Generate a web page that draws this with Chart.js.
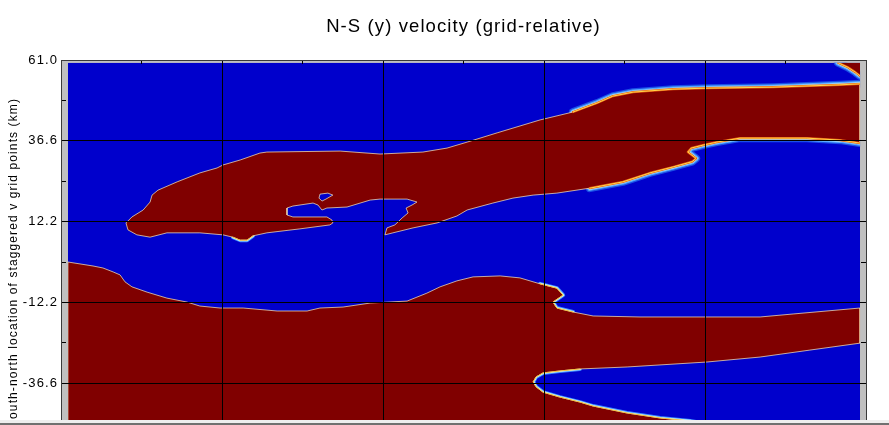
<!DOCTYPE html>
<html>
<head>
<meta charset="utf-8">
<script src="https://cdn.jsdelivr.net/npm/chart.js@4/dist/chart.umd.min.js"></script>
<style>
  html, body { margin: 0; padding: 0; background: #ffffff; overflow: hidden; }
  #wrap { position: relative; width: 889px; height: 425px; overflow: hidden; background: #ffffff; }
  #c { position: absolute; left: 0; top: 0; }
  #edgeLight { position: absolute; left: 0; top: 420px; width: 889px; height: 3px; background: #eeeeee; }
  #edgeDark { position: absolute; left: 0; top: 423px; width: 889px; height: 2px; background: #707070; }
</style>
</head>
<body>
<div id="wrap">
  <canvas id="c" width="889" height="490"></canvas>
  <div id="edgeLight"></div>
  <div id="edgeDark"></div>
</div>
<script>
// ---------------- texts ----------------
const chartTitle = 'N-S (y) velocity (grid-relative)';
const yAxisTitle = 'south-north location of staggered v grid points (km)';

// ---------------- axes (km) ----------------
const xRange = [-122, 122];
const yRange = [-61, 61];
const xTickValues = [-122, -97.6, -73.2, -48.8, -24.4, 0, 24.4, 48.8, 73.2, 97.6, 122];
const xGridValues = [-73.2, -24.4, 24.4, 73.2];
const yTickValues = [-61, -48.8, -36.6, -24.4, -12.2, 0, 12.2, 24.4, 36.6, 48.8, 61];
const yTickLabels = ['-61.0', '', '-36.6', '', '-12.2', '', '12.2', '', '36.6', '', '61.0'];

// ---------------- field domain (km) ----------------
const domainX = [-119.9, 120.2];
const domainY = [-60.2, 60.2];

// ------- contour boundaries of northward (positive) velocity regions, [x km, y km] -------
const northBandTop = [[-102.3,11.8],[-100.5,13.6],[-97.1,15.7],[-95.0,18.1],[-94.4,20.2],[-92.6,21.7],[-86.8,24.2],[-79.9,26.9],[-74.7,28.4],[-72.9,29.3],[-67.7,30.8],[-61.7,32.9],[-59.6,33.2],[-37.4,33.5],[-25.3,32.6],[-12.3,33.2],[-5.0,34.4],[1.1,36.2],[10.2,39.0],[20.2,42.0],[23.2,42.9],[33.2,45.3],[40.5,48.0],[45.3,50.1],[51.4,51.3],[63.5,52.2],[73.8,52.5],[93.8,52.8],[114.1,53.5],[120.2,53.8]];
const northBandBottom = [[120.2,35.9],[114.1,36.8],[104.1,37.4],[93.8,37.4],[83.8,37.4],[76.8,36.2],[72.6,35.3],[69.0,34.4],[68.0,33.2],[70.5,31.3],[69.3,30.3],[63.5,28.7],[56.5,26.9],[48.3,24.2],[38.3,22.3],[28.3,20.8],[21.1,20.2],[15.0,19.3],[8.9,17.8],[1.1,15.7],[-2.0,13.9],[-8.0,11.8],[-15.3,10.3],[-21.4,8.8],[-23.8,8.2]];
const northBay = [[-23.2,10.3],[-20.8,11.2],[-18.6,13.3],[-16.8,14.8],[-17.4,16.3],[-15.6,17.2],[-14.1,18.1],[-17.1,19.0],[-25.3,19.0],[-28.3,18.7],[-35.3,16.6],[-41.4,16.3],[-42.9,15.7],[-44.1,17.2],[-45.6,17.8],[-51.7,16.9],[-53.5,16.3],[-53.5,14.2],[-51.7,13.6],[-41.4,13.6],[-39.9,12.7],[-39.6,11.8]];
const northBlobBottom = [[-40.5,11.2],[-49.6,10.0],[-59.6,8.8],[-63.8,7.9],[-65.6,6.6],[-67.7,6.6],[-69.9,7.5],[-72.9,8.2],[-79.9,8.8],[-89.9,8.8],[-95.0,7.5],[-99.0,8.2],[-101.7,9.7]];
const islandHole = [[-43.5,20.5],[-41.1,20.8],[-39.6,20.2],[-41.7,19.0],[-42.9,18.4],[-43.8,19.3]];
const cornerCell = [[113.5,60.2],[116.5,58.8],[118.8,57.3],[120.2,56.2],[120.2,60.2]];
const southTop = [[-119.9,0.0],[-112.3,-1.2],[-109.3,-1.8],[-106.2,-3.0],[-104.1,-3.9],[-102.6,-6.0],[-100.5,-7.5],[-95.9,-9.1],[-89.9,-10.9],[-83.8,-12.1],[-79.9,-13.3],[-73.8,-13.9],[-66.8,-13.9],[-56.5,-14.8],[-47.4,-14.8],[-43.5,-13.9],[-36.5,-13.6],[-28.3,-12.4],[-17.1,-11.8],[-11.1,-9.4],[-7.1,-7.5],[-2.0,-5.7],[2.9,-4.5],[11.1,-4.2],[17.1,-4.8],[23.2,-6.6],[28.3,-7.9],[30.2,-10.0],[27.1,-12.1],[28.3,-13.9],[33.2,-15.1],[39.3,-16.3],[53.5,-16.6],[89.9,-16.6],[99.9,-15.7],[120.2,-13.9]];
const southPocket = [[120.2,-24.5],[105.0,-26.6],[89.9,-28.7],[73.8,-30.2],[49.6,-31.7],[35.3,-32.3],[29.2,-32.9],[24.1,-33.5],[22.0,-34.7],[21.1,-36.2],[22.0,-37.7],[24.1,-39.3],[29.2,-40.8],[35.3,-42.3],[39.3,-43.5],[49.6,-45.6],[59.6,-47.1],[68.7,-48.0],[80.8,-50.1],[95.0,-60.2]];

// ---------------- styles ----------------
const FONT = "'Liberation Sans', Arial, Helvetica, sans-serif";
const NEG = '#0000cc';
const POS = '#800000';
const EDGE = 'rgba(255,240,185,0.7)';
const CLEAR = 'rgba(0,0,0,0)';

const toXY = arr => arr.map(p => ({x: p[0], y: p[1]}));
const closed = arr => toXY(arr.concat([arr[0]]));

function polygon(pts, color, order, edge) {
  return { data: closed(pts), showLine: true, fill: 'shape', backgroundColor: color,
    borderColor: edge || CLEAR, borderWidth: edge ? 1 : 0, pointRadius: 0, pointHoverRadius: 0,
    borderJoinStyle: 'round', order };
}
function stroke(pts, color, width, order) {
  return { data: toXY(pts), showLine: true, fill: false, borderColor: color, borderWidth: width,
    pointRadius: 0, pointHoverRadius: 0, borderJoinStyle: 'round', borderCapStyle: 'round', order };
}

const fieldDomain = [[domainX[0], domainY[1]], [domainX[1], domainY[1]], [domainX[1], domainY[0]], [domainX[0], domainY[0]]];
const northRegion = [].concat(northBandTop, northBandBottom, northBay, northBlobBottom);
const southRegion = [].concat(southTop, southPocket, [[domainX[0], domainY[0]]]);

const wideEdges = [
  northBandTop.filter(p => p[0] >= 30),
  northBandBottom.filter(p => p[0] >= 36),
  cornerCell.slice(0, 4)
];
const narrowEdges = [
  southPocket.slice(5, 19),
  northBlobBottom.filter(p => p[0] <= -62 && p[0] >= -71),
  southTop.filter(p => p[0] >= 23 && p[0] <= 34)
];

const datasets = [];
datasets.push(polygon(fieldDomain, NEG, 100));
wideEdges.forEach(seg => {
  datasets.push(stroke(seg, '#1a4fe8', 8, 96));
  datasets.push(stroke(seg, '#58aaff', 5.5, 95));
  datasets.push(stroke(seg, '#c0f6ff', 3, 94));
});
narrowEdges.forEach(seg => {
  datasets.push(stroke(seg, '#3f8cff', 4, 93));
  datasets.push(stroke(seg, '#c8f8ff', 2.2, 92));
});
datasets.push(polygon(northRegion, POS, 50, EDGE));
datasets.push(polygon(southRegion, POS, 50, EDGE));
datasets.push(polygon(cornerCell, POS, 50));
datasets.push(polygon(islandHole, NEG, 40, EDGE));
wideEdges.forEach(seg => {
  datasets.push(stroke(seg, '#e85a10', 2.2, 20));
  datasets.push(stroke(seg, '#ffd84a', 1, 19));
});
narrowEdges.forEach(seg => {
  datasets.push(stroke(seg, '#f0c040', 1, 18));
});

// frame: gray axis box, field clipped to its domain, wide glyph spacing
const fieldFrame = {
  id: 'fieldFrame',
  beforeDraw(chart) { chart.ctx.letterSpacing = '1.1px'; },
  beforeDatasetsDraw(chart) {
    const {ctx, chartArea: a, scales} = chart;
    ctx.save();
    ctx.fillStyle = '#c0c0c0';
    ctx.fillRect(a.left, a.top, a.right - a.left, a.bottom - a.top);
    const l = scales.x.getPixelForValue(domainX[0]);
    const r = scales.x.getPixelForValue(domainX[1]);
    const t = scales.y.getPixelForValue(domainY[1]);
    const b = scales.y.getPixelForValue(domainY[0]);
    ctx.beginPath();
    ctx.rect(l, t, r - l, b - t);
    ctx.clip();
  },
  afterDatasetsDraw(chart) { chart.ctx.restore(); }
};

const setTicks = values => scale => { scale.ticks = values.map(v => ({value: v})); };
const isYMajor = c => c.tick && yTickLabels[c.index] !== '';
const isXGrid = c => c.tick && xGridValues.some(v => Math.abs(v - c.tick.value) < 1e-6);
const BORDER = { display: true, color: '#3a3a3a', width: 1, z: 2 };

new Chart(document.getElementById('c'), {
  type: 'scatter',
  data: { datasets },
  options: {
    responsive: false,
    animation: false,
    events: [],
    layout: { padding: 0 },
    plugins: {
      legend: { display: false },
      tooltip: { enabled: false },
      title: {
        display: true, text: chartTitle, fullSize: false, color: '#000000',
        font: { family: FONT, size: 18.5, weight: 'normal', lineHeight: 1.2 },
        padding: { top: 16, bottom: 21.8 }
      }
    },
    scales: {
      x: {
        type: 'linear', position: 'bottom', min: xRange[0], max: xRange[1], z: 1,
        afterBuildTicks: setTicks(xTickValues),
        afterFit: s => { s.height = 26; },
        ticks: { display: false, autoSkip: false },
        grid: { z: 1, color: c => isXGrid(c) ? '#000000' : CLEAR, tickColor: '#000000', tickLength: -4, lineWidth: 1 },
        border: BORDER
      },
      x2: {
        type: 'linear', axis: 'x', position: 'top', min: xRange[0], max: xRange[1], z: 1,
        afterBuildTicks: setTicks(xTickValues),
        afterFit: s => { s.height = 0; },
        ticks: { display: false, autoSkip: false },
        grid: { z: 1, drawOnChartArea: false, color: CLEAR, tickColor: '#000000', tickLength: -4 },
        border: BORDER
      },
      y: {
        type: 'linear', position: 'left', min: yRange[0], max: yRange[1], z: 1,
        afterBuildTicks: setTicks(yTickValues),
        afterFit: s => { s.width = 61; },
        ticks: { z: 1, autoSkip: false, color: '#000000', padding: 8,
          font: { family: FONT, size: 13 },
          callback: (v, i) => yTickLabels[i] },
        grid: { z: 1, color: c => isYMajor(c) ? '#000000' : CLEAR, tickColor: '#000000', tickLength: -5, lineWidth: 1 },
        border: BORDER,
        title: { display: true, text: yAxisTitle, color: '#000000',
          font: { family: FONT, size: 12, lineHeight: 1.2 }, padding: { top: 6, bottom: 0 } }
      },
      y2: {
        type: 'linear', axis: 'y', position: 'right', min: yRange[0], max: yRange[1], z: 1,
        afterBuildTicks: setTicks(yTickValues),
        afterFit: s => { s.width = 23; },
        ticks: { display: false, autoSkip: false },
        grid: { z: 1, drawOnChartArea: false, color: CLEAR, tickColor: '#000000', tickLength: -5 },
        border: BORDER
      }
    }
  },
  plugins: [fieldFrame]
});
</script>
</body>
</html>
